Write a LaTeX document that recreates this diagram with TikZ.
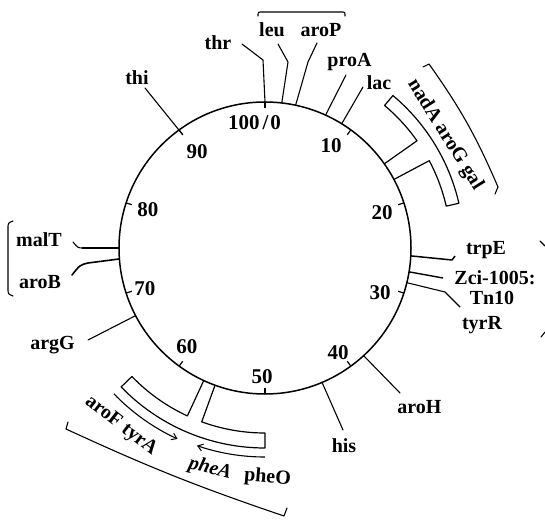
\documentclass[tikz,border=0pt]{standalone}
\usepackage{fontspec}
\setmainfont{Liberation Serif}
\usetikzlibrary{arrows.meta}
\begin{document}
\begin{tikzpicture}[x=1pt,y=1pt,
  lbl/.style={font=\fontsize{20}{20}\selectfont\bfseries, inner sep=0pt},
  num/.style={font=\fontsize{21}{21}\selectfont\bfseries, inner sep=0pt},
  gl/.style={line width=1.1pt, line join=round, line cap=round},
  ring/.style={line width=1.5pt},
  tickmark/.style={line width=1.2pt},
  band/.style={line width=1.2pt, line join=round},
  arr/.style={line width=1.1pt, -{Straight Barb[length=5pt,width=7pt,line width=1pt]}}
]
\useasboundingbox (-265,-273) rectangle (280,248);

% chromosome circle
\draw[ring] (0,0) circle (146pt);
\foreach \p in {0,10,...,90} \draw[tickmark] ({90-3.6*\p}:146) -- ({90-3.6*\p}:140);

% scale numbers
\node[num] (n0)  at (-10.5,125) {100\kern3pt/\kern2pt0};
\node[num] (n10) at (66,102) {10};
\node[num] (n20) at (117,35) {20};
\node[num] (n30) at (115,-45) {30};
\node[num] (n40) at (73,-105) {40};
\node[num] (n50) at (-3,-129) {50};
\node[num] (n60) at (-78,-99) {60};
\node[num] (n70) at (-120,-41) {70};
\node[num] (n80) at (-117,38) {80};
\node[num] (n90) at (-68,96) {90};

% gene labels
\node[lbl] (thr)  at (-47,205.5) {thr};
\node[lbl] (leu)  at (7,218) {leu};
\node[lbl] (aroP) at (56,217.5) {aroP};
\node[lbl] (proA) at (84.5,185.5) {proA};
\node[lbl] (lac)  at (114,165) {lac};
\node[lbl] (thi)  at (-128,170) {thi};
\node[lbl] (malT) at (-226,8) {malT};
\node[lbl] (aroB) at (-225,-34) {aroB};
\node[lbl] (argG) at (-212.5,-97.5) {argG};
\node[lbl] (trpE) at (221,-2.5) {trpE};
\node[lbl] (zci)  at (230,-29.5) {Zci-1005:};
\node[lbl] (tn)   at (227,-49.5) {Tn10};
\node[lbl] (tyrR) at (217,-77) {tyrR};
\node[lbl] (aroH) at (154.5,-159.5) {aroH};
\node[lbl] (his)  at (79,-198) {his};
\node[lbl, rotate=-58] (nad) at (180,113) {nadA aroG gal};
\node[lbl, rotate=-38] (arof) at (-144,-178) {aroF tyrA};
\node[lbl, rotate=-14] (phea) at (-55,-221) {\itshape pheA};
\node[lbl, rotate=-5] (pheo) at (2.5,-230) {pheO};

% marker lines
\coordinate (cthr) at (90:146);
\coordinate (cleu) at (83.4:146);
\coordinate (carop) at (77.9:146);
\coordinate (cproa) at (65.5:146);
\coordinate (clac) at (58.3:146);
\coordinate (cthi) at (126:140);
\coordinate (cmalt) at (180:146);
\coordinate (carob) at (184.3:146);
\coordinate (cargg) at (207.6:146);
\coordinate (ctrpe) at (-3.1:146);
\coordinate (czci) at (-9.4:146);
\coordinate (ctyrr) at (-13.75:146);
\coordinate (caroh) at (-47.5:146);
\coordinate (chis) at (-67:146);

\draw[gl] (cthr) -- (-2,188) -- (-23,204);
\draw[gl] (cleu) -- (23,186) -- (13,204);
\draw[gl] (carop) -- (43,186) -- (52,205);
\draw[gl] (cproa) -- (81,173);
\draw[gl] (clac) -- (98,161);
\draw[gl] (cthi) -- (-120,160);
\draw[line width=2.4pt] (cmalt) -- (-183,0);
\draw[gl] (-182,0) .. controls (-187,0) .. (-192,6);
\draw[line width=1.6pt, line cap=round] (carob) -- (-177,-15) .. controls (-185,-17) .. (-193,-27);
\draw[gl] (cargg) -- (-177,-92);
\draw[line width=1.5pt, line join=round] (ctrpe) -- (187,-12) -- (190,-8);
\draw[line width=1.4pt] (czci) -- (178,-30);
\draw[gl] (ctyrr) -- (180,-44) -- (195,-59);
\draw[gl] (caroh) -- (135,-145);
\draw[gl] (chis) -- (78,-182);

% brackets
\draw[gl] (-7,232) .. controls (-7,236) .. (-3,236) -- (76,236) .. controls (80,236) .. (80,232);
\draw[gl] (-252,27) .. controls (-257,25) .. (-257,20) -- (-257,-41) .. controls (-257,-46) .. (-252,-48);
\draw[gl] (158,181) -- (164,184) to[bend left=6] (233,61) -- (230,54);
\draw[gl] (275,7) -- (280,2);
\draw[gl] (276,-89) -- (280,-84);
\draw[gl] (-197,-174) -- (-199,-181) to[bend right=3] (19,-268) -- (22,-260);

% T-shaped region, upper right
\draw[band] (35.2:146) -- (35.2:186) arc[start angle=35.2, end angle=50, radius=186pt]
  -- (50:199) arc[start angle=50, end angle=13, radius=199pt]
  -- (13:186) arc[start angle=13, end angle=28, radius=186pt] -- (28:146);

% T-shaped region, bottom
\draw[band] (245.2:146) -- (245.2:185) arc[start angle=245.2, end angle=224, radius=185pt]
  -- (224:200) arc[start angle=224, end angle=270, radius=200pt]
  -- (270:185) arc[start angle=270, end angle=250, radius=185pt] -- (250:146);

% transcription arrows
\draw[arr] (224:210) arc[start angle=224, end angle=245.4, radius=210pt];
\draw[arr] (270:209) arc[start angle=270, end angle=251, radius=209pt];
\end{tikzpicture}
\end{document}
